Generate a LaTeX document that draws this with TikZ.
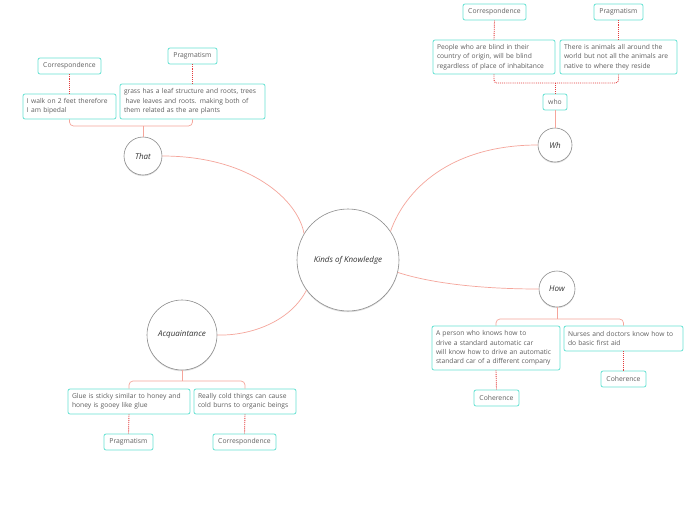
\documentclass[tikz,border=0pt]{standalone}
\usepackage{fontspec}
\setmainfont{Open Sans}
\usetikzlibrary{shadows}
\definecolor{turq}{RGB}{102,226,211}
\definecolor{salmon}{RGB}{245,165,155}
\definecolor{dotred}{RGB}{228,60,60}
\definecolor{txtgray}{RGB}{95,95,95}
\definecolor{circgray}{RGB}{140,140,140}
\tikzset{
 box/.style={draw=turq, line width=0.8pt, rounded corners=2pt, fill=white, text=txtgray,
   font=\fontsize{6.7}{9.4}\selectfont, inner xsep=4pt, inner ysep=2pt, align=left},
 tagbox/.style={draw=turq, line width=0.8pt, rounded corners=2pt, fill=white, text=txtgray,
   font=\fontsize{6.8}{8}\selectfont, inner sep=0pt, align=center},
 topic/.style={circle, draw=circgray, line width=0.6pt, fill=white,
   drop shadow={opacity=0.25, shadow xshift=0pt, shadow yshift=-1.2pt},
   font=\fontsize{8}{9}\selectfont\itshape, text=black!80, inner sep=0pt},
 branch/.style={draw=salmon, line width=0.7pt, rounded corners=4pt},
 dotlink/.style={draw=dotred, line width=0.9pt, densely dotted, rounded corners=3pt},
}
\begin{document}
\begin{tikzpicture}[x=1pt,y=-1pt]
\useasboundingbox[fill=white] (0,0) rectangle (696,520);

% topics
\node[topic, minimum size=102pt] (kk) at (348,260) {Kinds of Knowledge};
\node[topic, minimum size=38pt] (that) at (143,156) {That};
\node[topic, minimum size=34pt] (wh) at (555,145) {Wh};
\node[topic, minimum size=36pt] (how) at (557,289) {How};
\node[topic, minimum size=70pt] (acq) at (182,335) {Acquaintance};

% main curves
\draw[salmon, line width=0.7pt] (kk.149) .. controls (298,200) and (250,156) .. (that.east);
\draw[salmon, line width=0.7pt] (kk.34) .. controls (405,190) and (450,145) .. (wh.west);
\draw[salmon, line width=0.7pt] (kk.-14) .. controls (430,283) and (480,289) .. (how.west);
\draw[salmon, line width=0.7pt] (kk.216) .. controls (290,322) and (250,336) .. (acq.east);

% That subtree
\node[box, text width=85pt, minimum height=25pt] (t1) at (69.5,106.5) {I walk on 2 feet therefore\\I am bipedal};
\node[box, text width=137pt, minimum height=35pt] (t2) at (192.5,101.5) {grass has a leaf structure and roots, trees\\\hspace{1.5pt}have leaves and roots. making both of\\them related as the are plants};
\node[tagbox, minimum width=63pt, minimum height=16pt] (tc) at (69.5,66) {Correspondence};
\node[tagbox, minimum width=49pt, minimum height=16pt] (tp) at (192.5,56) {Pragmatism};
\coordinate (thatb) at (143,126);
\draw[branch] (t1.south) |- (thatb) -| (t2.south);
\draw[branch] (that.north) -- (thatb);
\draw[dotlink] (t1.north) -- (tc.south);
\draw[dotlink] (t2.north) -- (tp.south);

% Wh subtree
\node[tagbox, minimum width=24pt, minimum height=16pt] (who) at (555,102) {who};
\node[box, text width=114pt, minimum height=34pt] (w1) at (494,57) {People who are blind in their\\country of origin, will be blind\\regardless of place of inhabitance};
\node[box, text width=109pt, minimum height=34pt] (w2) at (618.5,57) {There is animals all around the\\world but not all the animals are\\native to where they reside};
\node[tagbox, minimum width=63pt, minimum height=16pt] (wc) at (494.5,12) {Correspondence};
\node[tagbox, minimum width=49pt, minimum height=16pt] (wp) at (618.5,12) {Pragmatism};
\coordinate (whb) at (555,83);
\draw[branch] (wh.north) -- (who.south);
\draw[dotlink] (w1.south) |- (whb) -| (w2.south);
\draw[dotlink] (who.north) -- (whb);
\draw[dotlink] (w1.north) -- (wc.south);
\draw[dotlink] (w2.north) -- (wp.south);

% How subtree
\node[box, text width=120pt, minimum height=44pt] (h1) at (496,348) {A person who knows how to\\drive a standard automatic car\\will know how to drive an automatic\\standard car of a different company};
\node[box, text width=111pt, minimum height=25pt] (h2) at (623.5,338.5) {Nurses and doctors know how to\\do basic first aid};
\node[tagbox, minimum width=45pt, minimum height=16pt] (hc1) at (496.5,398) {Coherence};
\node[tagbox, minimum width=45pt, minimum height=16pt] (hc2) at (623.5,379) {Coherence};
\coordinate (howb) at (557,319);
\draw[branch] (h1.north) |- (howb) -| (h2.north);
\draw[branch] (how.south) -- (howb);
\draw[dotlink] (h1.south) -- (hc1.north);
\draw[dotlink] (h2.south) -- (hc2.north);

% Acquaintance subtree
\node[box, text width=114pt, minimum height=25pt] (a1) at (129,401.5) {Glue is sticky similar to honey and\\honey is gooey like glue};
\node[box, text width=94pt, minimum height=25pt] (a2) at (245,401.5) {Really cold things can cause\\cold burns to organic beings};
\node[tagbox, minimum width=49pt, minimum height=16pt] (ap) at (128.5,442) {Pragmatism};
\node[tagbox, minimum width=63pt, minimum height=16pt] (ac) at (244.5,442) {Correspondence};
\coordinate (acqb) at (182,381);
\draw[branch] (a1.north) |- (acqb) -| (a2.north);
\draw[branch] (acq.south) -- (acqb);
\draw[dotlink] (a1.south) -- (ap.north);
\draw[dotlink] (a2.south) -- (ac.north);
\end{tikzpicture}
\end{document}
